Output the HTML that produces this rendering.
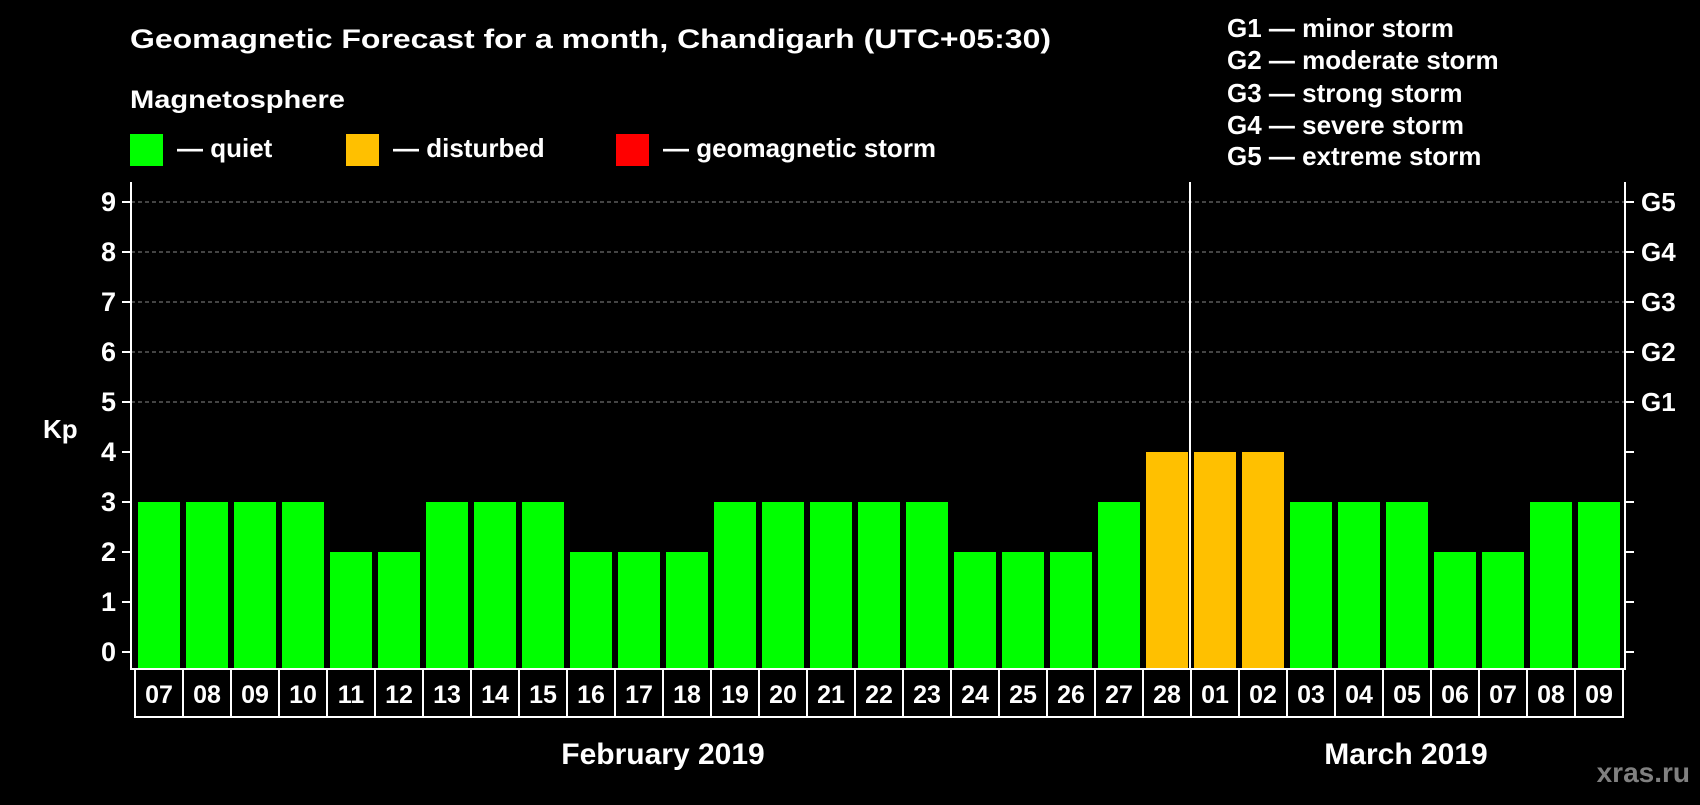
<!DOCTYPE html>
<html><head><meta charset="utf-8"><style>
body{margin:0;background:#000;width:1700px;height:800px;overflow:hidden}
svg text{font-family:"Liberation Sans",Arial,sans-serif;font-weight:bold;fill:#fff}
</style></head><body>
<svg width="1700" height="800">
<text x="130" y="48" font-size="27" textLength="921" lengthAdjust="spacingAndGlyphs">Geomagnetic Forecast for a month, Chandigarh (UTC+05:30)</text>
<text x="130" y="108" font-size="25" textLength="215" lengthAdjust="spacingAndGlyphs">Magnetosphere</text>
<rect x="130" y="134" width="33" height="32" fill="#00ff00"/>
<text x="177" y="157" font-size="26">— quiet</text>
<rect x="346" y="134" width="33" height="32" fill="#ffc000"/>
<text x="393" y="157" font-size="26">— disturbed</text>
<rect x="616" y="134" width="33" height="32" fill="#ff0000"/>
<text x="663" y="157" font-size="26">— geomagnetic storm</text>
<g font-size="26">
<text x="1227" y="37">G1 — minor storm</text>
<text x="1227" y="69">G2 — moderate storm</text>
<text x="1227" y="102">G3 — strong storm</text>
<text x="1227" y="134">G4 — severe storm</text>
<text x="1227" y="165">G5 — extreme storm</text>
</g>
<text x="43" y="438" font-size="26">Kp</text>
<g id="plot"></g>
<text x="663" y="764" font-size="30" text-anchor="middle">February 2019</text>
<text x="1406" y="764" font-size="30" text-anchor="middle">March 2019</text>
<text x="1690" y="782" font-size="28" text-anchor="end" style="fill:#808080">xras.ru</text>
</svg>
<script>
const days=["07","08","09","10","11","12","13","14","15","16","17","18","19","20","21","22","23","24","25","26","27","28","01","02","03","04","05","06","07","08","09"];
const kp=[3,3,3,3,2,2,3,3,3,2,2,2,3,3,3,3,3,2,2,2,3,4,4,4,3,3,3,2,2,3,3];
const yTicks=[0,1,2,3,4,5,6,7,8,9];
const gLabels=["","","","","","G1","G2","G3","G4","G5"];
const NS="http://www.w3.org/2000/svg";
const g=document.getElementById('plot');
const L=131,R=1625,T=182,B=669,x0=135,slot=48;
const y=v=>652-v*50;
const xs=i=>x0+i*slot;
function mk(t,a){const e=document.createElementNS(NS,t);for(const k in a)e.setAttribute(k,a[k]);g.appendChild(e);return e;}
yTicks.forEach(v=>{
 if(v>=5){const l=mk('line',{x1:L,x2:R,y1:y(v),y2:y(v),stroke:'#888','stroke-dasharray':'4,3','stroke-width':1});
 
 }
 const t1=mk('line',{x1:L-9,x2:L,y1:y(v),y2:y(v),stroke:'#fff','stroke-width':2});
 
 
 const t2=mk('line',{x1:R,x2:R+9,y1:y(v),y2:y(v),stroke:'#fff','stroke-width':2});
 
 
 const tx=mk('text',{x:116,y:y(v)+9,'text-anchor':'end','font-size':27});tx.textContent=v;
 
 
 if(gLabels[v]){const gl=mk('text',{x:1641,y:y(v)+9,'font-size':26});gl.textContent=gLabels[v];
 
 }
});
kp.forEach((v,i)=>{
 const b=mk('rect',{x:xs(i)+3,y:y(v),width:42,height:B-y(v)-1,fill:v>=5?'#ff0000':v>=4?'#ffc000':'#00ff00'});
 
 
 const c=mk('rect',{x:xs(i),y:B,width:slot,height:48,fill:'none',stroke:'#fff','stroke-width':2});
 
 
 const t=mk('text',{x:xs(i)+slot/2,y:B+34,'text-anchor':'middle','font-size':25});t.textContent=days[i];
 
 
});
const f=mk('path',{d:`M${L} ${T}V${B}H${R}V${T}`,fill:'none',stroke:'#fff','stroke-width':2});


const m=mk('line',{x1:xs(22)-1,x2:xs(22)-1,y1:T,y2:B,stroke:'#fff','stroke-width':2});


</script>
</body></html>
